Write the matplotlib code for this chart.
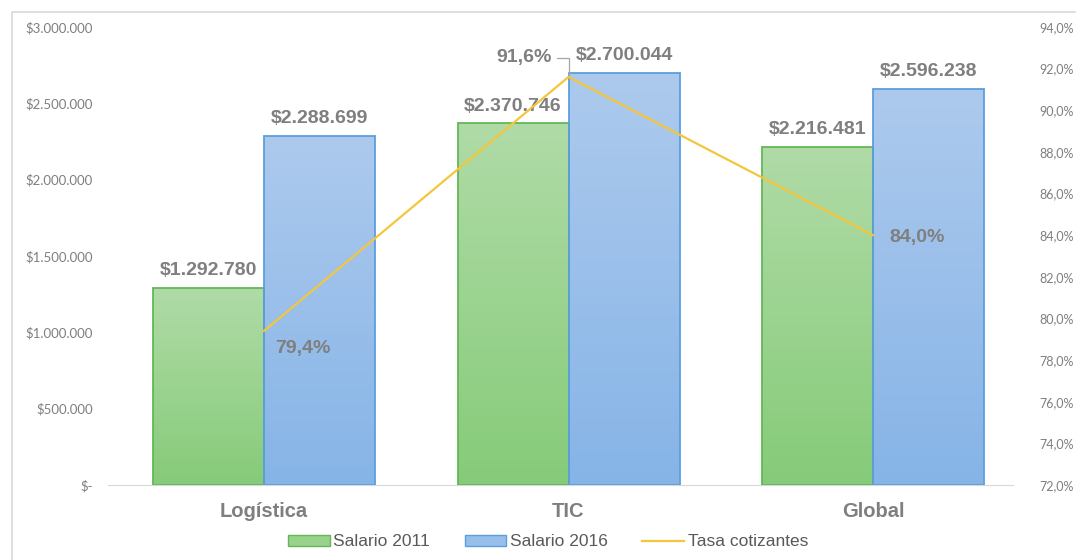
import numpy as np
import matplotlib.pyplot as plt
from matplotlib.patches import Rectangle, Patch
from matplotlib.lines import Line2D
from matplotlib.colors import LinearSegmentedColormap

# datos
categorias = ['Logística', 'TIC', 'Global']
salario_2011 = [1292780, 2370746, 2216481]
salario_2016 = [2288699, 2700044, 2596238]
tasa_cotizantes = [79.4, 91.6, 84.0]

gris = '#7f7f7f'
verde_borde = '#62b857'
azul_borde = '#5a9ee0'
amarillo = '#f4c63d'


def miles(v):
    if v == 0:
        return '$-'
    return '$' + f'{int(v):,}'.replace(',', '.')


def pct(v):
    return f'{v:.1f}'.replace('.', ',') + '%'


fig = plt.figure(figsize=(10.76, 5.6), dpi=100)
W, H = 1076, 560
ax = fig.add_axes([108 / W, (H - 485) / H, (1013 - 108) / W, 458 / H])
ax2 = ax.twinx()

paso = 304.5
xlim = ((108 - 264) / paso, (1013 - 264) / paso)
ancho = 111 / paso
x = np.arange(len(categorias))

cm_verde = LinearSegmentedColormap.from_list('v', ['#86cb79', '#b0dba7'])
cm_azul = LinearSegmentedColormap.from_list('a', ['#86b4e7', '#adcaed'])
grad = np.linspace(0, 1, 256).reshape(-1, 1)

etiqueta = dict(fontsize=14, fontweight='bold', color=gris,
                family='Liberation Sans')


def barra(x0, alto, cmap, borde):
    r = Rectangle((x0, 0), ancho, alto, facecolor='none', edgecolor=borde,
                  lw=1.3, zorder=3)
    ax.add_patch(r)
    im = ax.imshow(grad, cmap=cmap, origin='lower', aspect='auto',
                   extent=[x0, x0 + ancho, 0, alto], zorder=2)
    im.set_clip_path(r)


for i in range(len(categorias)):
    barra(x[i] - ancho, salario_2011[i], cm_verde, verde_borde)
    barra(x[i], salario_2016[i], cm_azul, azul_borde)
    ax.text(x[i] - ancho / 2, salario_2011[i] + 55000, miles(salario_2011[i]),
            ha='center', va='bottom', zorder=5, **etiqueta)
    ax.text(x[i] + ancho / 2, salario_2016[i] + 55000, miles(salario_2016[i]),
            ha='center', va='bottom', zorder=5, **etiqueta)

# limites (imshow los cambia)
ax.set_xlim(*xlim)
ax.set_ylim(0, 3000000)
ax2.set_ylim(72, 94)

ax2.plot(x, tasa_cotizantes, color=amarillo, lw=1.6, zorder=4)

# etiquetas de la tasa
ax2.annotate(pct(tasa_cotizantes[0]), (x[0], tasa_cotizantes[0]),
             xytext=(11, -18), textcoords='offset pixels', ha='left',
             va='center', **etiqueta)
ax2.annotate(pct(tasa_cotizantes[2]), (x[2], tasa_cotizantes[2]),
             xytext=(16, -2), textcoords='offset pixels', ha='left',
             va='center', **etiqueta)
ax2.annotate(pct(tasa_cotizantes[1]), (x[1], tasa_cotizantes[1]),
             xytext=(-17, 19), textcoords='offset pixels', ha='right',
             va='center',
             arrowprops=dict(arrowstyle='-', color='#a6a6a6', lw=0.9,
                             connectionstyle='angle,angleA=0,angleB=90,rad=0',
                             shrinkA=2, shrinkB=0),
             **etiqueta)

# ejes
for a in (ax, ax2):
    for s in a.spines.values():
        s.set_visible(False)
ax.spines['bottom'].set_visible(True)
ax.spines['bottom'].set_color('#d9d9d9')

ax.set_xticks(x)
ax.set_xticklabels(categorias, fontsize=14.5, fontweight='bold', color=gris,
                   family='Liberation Sans')
ax.tick_params(axis='x', length=0, pad=12)

yt = np.arange(0, 3000001, 500000)
ax.set_yticks(yt)
ax.set_yticklabels([miles(v) for v in yt], fontsize=9.5, color=gris, family='Lato')
ax.tick_params(axis='y', length=0, pad=11)

pt = np.arange(72, 94.1, 2)
ax2.set_yticks(pt)
ax2.set_yticklabels([pct(v) for v in pt], fontsize=9, color=gris, family='Lato')
ax2.tick_params(axis='y', length=0, pad=19)

# leyenda
manejadores = [
    Patch(facecolor='#98d28c', edgecolor=verde_borde, label='Salario 2011'),
    Patch(facecolor='#98bfea', edgecolor=azul_borde, label='Salario 2016'),
    Line2D([0], [0], color=amarillo, lw=1.6, label='Tasa cotizantes'),
]
fig.legend(handles=manejadores, loc='center', bbox_to_anchor=(548 / W, 1 - 542 / H),
           ncol=3, frameon=False, labelcolor='#595959',
           handlelength=2.4, handleheight=0.6, handletextpad=0.2,
           columnspacing=2.0, prop={'family': 'Liberation Sans', 'size': 12.5})

# marco del grafico
fig.patches.append(Rectangle((12 / W, -0.05), 1.1, 1 - 12 / H + 0.05,
                             transform=fig.transFigure, fill=False,
                             edgecolor='#d9d9d9', lw=1.2))

fig.savefig('out.png', dpi=100)
